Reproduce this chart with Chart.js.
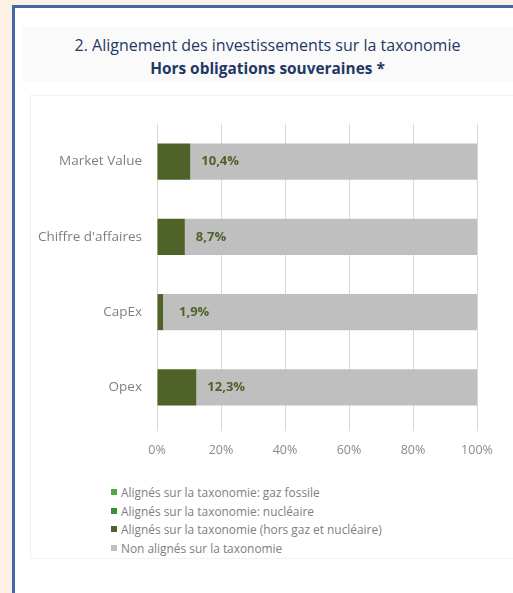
<!DOCTYPE html>
<html>
<head>
<meta charset="utf-8">
<script src="https://cdn.jsdelivr.net/npm/chart.js@4.4.1/dist/chart.umd.min.js"></script>
<style>
  body { margin: 0; width: 513px; height: 593px; overflow: hidden; background: #fdf0e4; font-family: "Open Sans", sans-serif; }
  #frame { position: absolute; left: 12px; top: 5px; width: 520px; height: 600px; background: #fff;
           border-left: 3px solid #4467a9; border-top: 3px solid #4467a9; }
  #titre { position: absolute; left: 22px; top: 27px; width: 491px; height: 55px; background: #fafafa;
           text-align: center; color: #1f3864; font-size: 16px; line-height: 23px; padding-top: 7px; box-sizing: border-box; }
  #titre b { font-weight: 700; font-size: 15.4px; }
  #boite { position: absolute; left: 30px; top: 95px; width: 490px; height: 462px; border: 1px solid #f2f2f2; }
  #wrap { position: absolute; left: 30px; top: 100px; width: 483px; height: 374px; }
  #legende { position: absolute; left: 111px; top: 483px; font-size: 11.9px; color: #808080; line-height: 18.7px; }
  #legende span.c { display: inline-block; width: 6px; height: 6px; margin-right: 4px; vertical-align: 2px; }
</style>
</head>
<body>
<div id="frame"></div>
<div id="titre">2. Alignement des investissements sur la taxonomie<br><b>Hors obligations souveraines *</b></div>
<div id="boite"></div>
<div id="wrap"><canvas id="chart-taxo"></canvas></div>
<div id="legende"></div>
<script>
// categories et valeurs (en %)
const labels_taxo = ['Market Value', "Chiffre d'affaires", 'CapEx', 'Opex'];
const gaz_fossile = [0, 0, 0, 0];
const nucleaire = [0, 0, 0, 0];
const hors_gaz_nucleaire = [10.4, 8.7, 1.9, 12.3];
const non_alignes = [89.6, 91.3, 98.1, 87.7];
const ticks_x = [0, 20, 40, 60, 80, 100];

const noms = [
  'Alignés sur la taxonomie: gaz fossile',
  'Alignés sur la taxonomie: nucléaire',
  'Alignés sur la taxonomie (hors gaz et nucléaire)',
  'Non alignés sur la taxonomie'
];
const couleurs = ['#4cad3e', '#3d8f35', '#4f6228', '#bfbfbf'];

const data_taxo = {
  labels: labels_taxo,
  datasets: [
    { label: noms[0], data: gaz_fossile, backgroundColor: couleurs[0] },
    { label: noms[1], data: nucleaire, backgroundColor: couleurs[1] },
    { label: noms[2], data: hors_gaz_nucleaire, backgroundColor: couleurs[2] },
    { label: noms[3], data: non_alignes, backgroundColor: couleurs[3] }
  ]
};

// etiquettes "10,4%" a droite de la barre verte
const etiquettes = {
  id: 'etiquettes',
  afterDatasetsDraw(chart) {
    const ctx = chart.ctx;
    const meta = chart.getDatasetMeta(2);
    ctx.save();
    ctx.font = 'bold 13px "Open Sans"';
    ctx.fillStyle = '#4f6228';
    ctx.textBaseline = 'middle';
    meta.data.forEach((bar, i) => {
      const x = Math.max(bar.x + 11, chart.chartArea.left + 22);
      ctx.fillText(hors_gaz_nucleaire[i].toFixed(1).replace('.', ',') + '%', x, bar.y);
    });
    ctx.restore();
  }
};

const config_taxo = {
  type: 'bar',
  data: data_taxo,
  options: {
    indexAxis: 'y',
    responsive: true,
    maintainAspectRatio: false,
    animation: false,
    layout: { padding: { top: 24, right: 36, left: 0, bottom: 4 } },
    datasets: { bar: { barPercentage: 0.48, categoryPercentage: 1 } },
    plugins: { legend: { display: false }, tooltip: { enabled: false } },
    scales: {
      x: {
        stacked: true,
        min: 0, max: 100,
        afterBuildTicks: s => { s.ticks = ticks_x.map(v => ({ value: v })); },
        ticks: { callback: v => v + '%', color: '#8a8a8a', font: { family: 'Open Sans', size: 12.5 }, padding: 12 },
        grid: { color: '#d9d9d9', tickLength: 6 },
        border: { display: false }
      },
      y: {
        stacked: true,
        afterFit: s => { s.width = 127; },
        ticks: { color: '#7f7f7f', font: { family: 'Open Sans', size: 13.5 }, padding: 7 },
        grid: { display: false },
        border: { display: false }
      }
    }
  },
  plugins: [etiquettes]
};

const myChart_taxo = new Chart(document.getElementById('chart-taxo'), config_taxo);

// legende sur une colonne
document.getElementById('legende').innerHTML = noms.map((n, i) =>
  '<div><span class="c" style="background:' + couleurs[i] + '"></span>' + n + '</div>').join('');
</script>
</body>
</html>
